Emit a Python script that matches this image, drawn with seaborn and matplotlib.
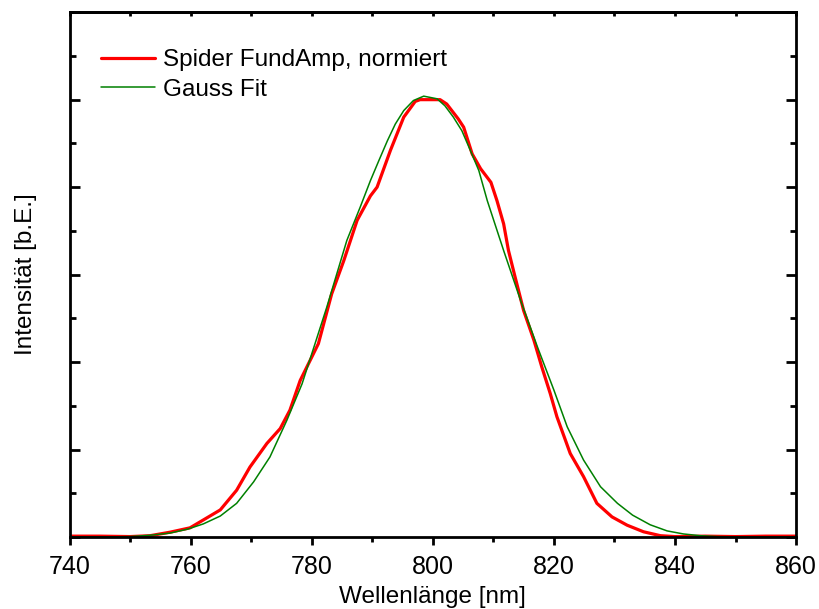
import matplotlib
matplotlib.use("Agg")
import matplotlib.pyplot as plt
import numpy as np
import pandas as pd
import seaborn as sns
from matplotlib.ticker import MultipleLocator, NullFormatter

# Spider fundamental amplitude, normalised
red_x = [740, 745, 750, 753.3, 756.6, 759.9, 762.1, 764.9, 767.6, 769.8,
         772.6, 774.8, 776.4, 778.1, 781.1, 783.3, 785.3, 787.5, 789.7, 790.8,
         793.0, 795.2, 797.1, 797.9, 801.2, 802.3, 804.2, 805.1, 806.5, 807.9,
         809.6, 810.6, 811.7, 812.5, 813.6, 815.0, 816.7, 818.0, 819.4, 820.5,
         822.7, 824.9, 827.1, 829.6, 832.1, 834.8, 837.6, 840, 845, 850, 855, 860]
red_y = [0.002, 0.002, 0.001, 0.003, 0.011, 0.021, 0.039, 0.062, 0.107, 0.160,
         0.214, 0.248, 0.290, 0.358, 0.442, 0.556, 0.632, 0.724, 0.780, 0.800,
         0.884, 0.960, 0.996, 1.000, 1.000, 0.990, 0.956, 0.937, 0.876, 0.842,
         0.811, 0.769, 0.716, 0.655, 0.594, 0.518, 0.450, 0.389, 0.328, 0.275,
         0.191, 0.138, 0.077, 0.046, 0.027, 0.012, 0.003, 0.001, 0.002, 0.001,
         0.002, 0.002]

# Gauss fit curve
green_x = [740, 745, 750, 753.3, 756.6, 759.5, 762.1, 764.9, 767.6, 770.4,
           773.1, 775.9, 778.4, 780.5, 782.5, 785.8, 788.0, 789.7, 791.1, 792.5,
           793.8, 795.2, 796.8, 798.5, 800.7, 802.0, 803.4, 804.8, 806.2, 807.6,
           809.0, 811.7, 814.5, 817.3, 820.0, 822.2, 824.9, 827.7, 830.5, 833.0,
           835.9, 838.7, 841.4, 844.2, 847, 852, 860]
green_y = [0.000, 0.000, 0.001, 0.004, 0.009, 0.018, 0.030, 0.048, 0.077, 0.126,
           0.183, 0.267, 0.350, 0.440, 0.526, 0.678, 0.754, 0.815, 0.861, 0.906,
           0.944, 0.975, 0.998, 1.008, 1.002, 0.986, 0.960, 0.929, 0.884, 0.838,
           0.769, 0.655, 0.541, 0.434, 0.336, 0.252, 0.176, 0.115, 0.077, 0.050,
           0.028, 0.014, 0.007, 0.003, 0.001, 0.000, 0.000]

sns.set_style("ticks")
plt.rcParams["font.family"] = ["Liberation Sans", "DejaVu Sans"]
plt.rcParams["axes.linewidth"] = 2
for key in ["text.color", "axes.labelcolor", "xtick.color", "ytick.color",
            "axes.edgecolor"]:
    plt.rcParams[key] = "black"

data = pd.concat([
    pd.DataFrame({"x": red_x, "y": red_y, "series": "Spider FundAmp, normiert"}),
    pd.DataFrame({"x": green_x, "y": green_y, "series": "Gauss Fit"}),
])

fig = plt.figure(figsize=(8.19, 6.09), dpi=100)
ax = fig.add_axes([0.0849, 0.1182, 0.8871, 0.8618])

sns.lineplot(data=data, x="x", y="y", hue="series", size="series",
             palette={"Spider FundAmp, normiert": "#ff0000", "Gauss Fit": "#008000"},
             sizes={"Spider FundAmp, normiert": 2.3, "Gauss Fit": 1.1},
             sort=False, ax=ax)
for line in ax.lines:
    line.set_solid_joinstyle("round")

ax.set_xlim(740, 860)
ax.set_ylim(0, 1.2)
ax.xaxis.set_major_locator(MultipleLocator(20))
ax.xaxis.set_minor_locator(MultipleLocator(10))
ax.yaxis.set_major_locator(MultipleLocator(0.2))
ax.yaxis.set_minor_locator(MultipleLocator(0.1))
ax.yaxis.set_major_formatter(NullFormatter())

ax.tick_params(axis="x", which="major", direction="out", length=6, width=2,
               labelsize=18, pad=7)
ax.tick_params(axis="x", which="minor", direction="out", length=3.5, width=2)
ax.tick_params(axis="y", which="major", direction="in", length=7, width=2,
               left=True, right=True)
ax.tick_params(axis="y", which="minor", direction="in", length=4, width=2,
               left=True, right=True)

top = ax.secondary_xaxis("top")
top.xaxis.set_major_locator(MultipleLocator(10))
top.xaxis.set_major_formatter(NullFormatter())
top.tick_params(axis="x", direction="in", length=3, width=2)

for s in ax.spines.values():
    s.set_linewidth(2)
    s.set_color("black")

ax.set_xlabel("Wellenlänge [nm]", fontsize=17.5, labelpad=5)
ax.set_ylabel("Intensität [b.E.]", fontsize=17.5, labelpad=20)

leg = ax.legend(loc="upper left", bbox_to_anchor=(0.03, 0.948), frameon=False,
                fontsize=17.5, handlelength=2.2, handletextpad=0.35,
                labelspacing=0.3, borderaxespad=0)

fig.savefig("out.png", dpi=100)
